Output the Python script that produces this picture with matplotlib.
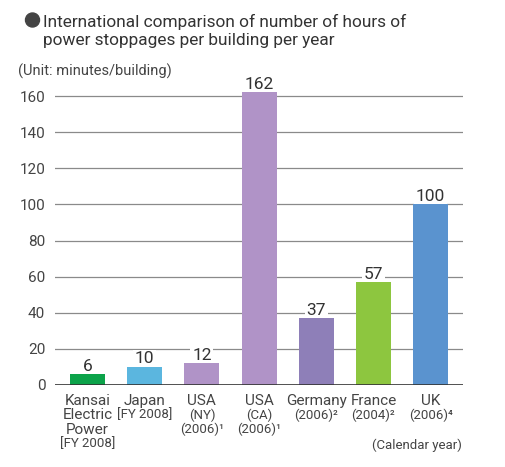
import matplotlib
matplotlib.use("Agg")
import matplotlib.pyplot as plt
from matplotlib import transforms
from matplotlib.patches import Ellipse

plt.rcParams['font.family'] = ['Roboto', 'DejaVu Sans']

# ---- data ----
names = [["Kansai", "Electric", "Power"], ["Japan"], ["USA"], ["USA"],
         ["Germany"], ["France"], ["UK"]]
notes = [["[FY 2008]"], ["[FY 2008]"], ["(NY)", "(2006)¹"], ["(CA)", "(2006)¹"],
         ["(2006)²"], ["(2004)²"], ["(2006)⁴"]]
values = [6, 10, 12, 162, 37, 57, 100]
colors = ["#0ca34a", "#5bb6df", "#b093c7", "#b093c7", "#8e7fb8", "#8dc63f", "#5a93cf"]
yticks = [0, 20, 40, 60, 80, 100, 120, 140, 160]

W, H = 505, 467
fig = plt.figure(figsize=(W / 100, H / 100), dpi=100)
ax = fig.add_axes([55 / W, 1 - 385 / H, (463 - 55) / W, (385 - 87) / H])

x = list(range(len(values)))
ax.bar(x, values, width=0.61, color=colors, zorder=3)
ax.set_xlim(-0.568, 6.565)
ax.set_ylim(0, 165)
ax.set_yticks(yticks)
ax.set_xticks([])
for s in ax.spines.values():
    s.set_visible(False)
ax.axhline(0, color="#333333", lw=1.2, zorder=4)
for t in yticks[1:]:
    ax.axhline(t, color="#8a8a8a", lw=0.9, zorder=1)
ax.tick_params(axis="y", length=0, pad=7, labelsize=11, labelcolor="#444444")

for xi, v in zip(x, values):
    ax.annotate(str(v), (xi, v), xytext=(0, 2.5), textcoords="offset points",
                ha="center", va="baseline", fontsize=12.5, color="#333333",
                bbox=dict(boxstyle="square,pad=0.1", fc="white", ec="none"),
                zorder=2)

tr = transforms.blended_transform_factory(ax.transData, fig.transFigure)
ys = [401, 415, 429.5, 444]
for xi, nm, nt in zip(x, names, notes):
    i = 0
    for line in nm:
        ax.text(xi, 1 - ys[i] / H, line, transform=tr, ha="center", va="center",
                fontsize=11, color="#444444")
        i += 1
    for line in nt:
        ax.text(xi, 1 - ys[i] / H, line, transform=tr, ha="center", va="center",
                fontsize=9.5, color="#444444")
        i += 1

fig.add_artist(Ellipse((32.5 / W, 1 - 20 / H), 14 / W, 14 / H,
                       transform=fig.transFigure, color="#444444"))
fig.text(43 / W, 1 - 27 / H, "International comparison of number of hours of",
         fontsize=12.4, color="#333333", va="baseline")
fig.text(43 / W, 1 - 45.5 / H, "power stoppages per building per year",
         fontsize=12.4, color="#333333", va="baseline")
fig.text(18 / W, 1 - 71 / H, "(Unit: minutes/building)", fontsize=10.5,
         color="#444444", va="center")
fig.text(462 / W, 1 - 445 / H, "(Calendar year)", fontsize=9.5,
         color="#444444", va="center", ha="right")

fig.savefig("out.png", dpi=100)
